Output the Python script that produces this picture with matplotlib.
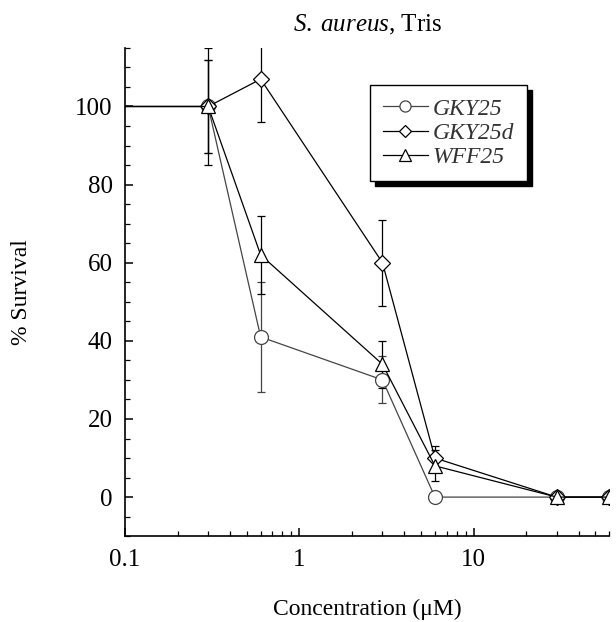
import matplotlib
matplotlib.use("Agg")
import matplotlib.pyplot as plt
from matplotlib.ticker import MultipleLocator, LogLocator, NullFormatter, FixedLocator, FixedFormatter

plt.rcParams['font.family'] = ['Liberation Serif', 'DejaVu Serif']
plt.rcParams['mathtext.fontset'] = 'custom'
plt.rcParams['mathtext.it'] = 'Liberation Serif:italic'
plt.rcParams['mathtext.rm'] = 'Liberation Serif'

# concentrations (uM); first point sits left of the axis and is clipped
conc = [0.05, 0.3, 0.6, 3, 6, 30, 60]

gky25 = [100, 100, 41, 30, 0, 0, 0]
gky25_err = [0, 12, 14, 6, 0, 0, 0]

gky25d = [100, 100, 107, 60, 10, 0, 0]
gky25d_err = [0, 15, 11, 11, 3, 0, 0]

wff25 = [100, 100, 62, 34, 8, 0, 0]
wff25_err = [0, 12, 10, 6, 4, 0, 0]

fig = plt.figure(figsize=(6.16, 6.22), dpi=100)
ax = fig.add_axes([0.203, 0.138, 0.786, 0.785])

series = [
    (gky25, gky25_err, 'GKY25', 'o', 10, '#444444'),
    (gky25d, gky25d_err, 'GKY25d', 'D', 8, 'black'),
    (wff25, wff25_err, 'WFF25', '^', 10, 'black'),
]
for vals, err, name, mk, ms, col in series:
    ax.errorbar(conc, vals, yerr=err, fmt='none', ecolor=col, elinewidth=0.9,
                capsize=2.8, capthick=0.9, zorder=2)
    ax.plot(conc, vals, color=col, lw=0.9, marker=mk, ms=ms, mfc='white',
            mec=col, mew=0.9, label=name, zorder=3)

ax.set_xscale('log')
ax.set_xlim(0.1, 60)
ax.set_ylim(-10, 115)

ax.xaxis.set_major_locator(FixedLocator([0.1, 1, 10]))
ax.xaxis.set_major_formatter(FixedFormatter(['0.1', '1', '10']))
ax.xaxis.set_minor_locator(LogLocator(base=10, subs=range(2, 10)))
ax.xaxis.set_minor_formatter(NullFormatter())
ax.yaxis.set_major_locator(MultipleLocator(20))
ax.yaxis.set_minor_locator(MultipleLocator(5))

for s in ['top', 'right']:
    ax.spines[s].set_visible(False)
ax.spines['left'].set_linewidth(1.2)
ax.spines['bottom'].set_linewidth(1.2)

ax.tick_params(which='major', direction='in', length=6, width=1.1, labelsize=18, pad=9)
ax.tick_params(which='minor', direction='in', length=3.5, width=0.9)

ax.set_title(r'$\mathit{S.\;aureus}$, Tris', fontsize=18, pad=12)
ax.set_xlabel('Concentration (\u03bcM)', fontsize=17, labelpad=20)
ax.set_ylabel('% Survival', fontsize=17, labelpad=31)

leg = ax.legend(loc='upper right', bbox_to_anchor=(0.83, 0.924), frameon=True,
                fancybox=False, shadow={'color': 'black', 'alpha': 1, 'ox': 3.5, 'oy': -3.5},
                prop={'style': 'italic', 'size': 17}, handlelength=1.9,
                handletextpad=0.2, labelspacing=0.12, borderpad=0.55,
                borderaxespad=0, markerscale=0.8)
leg.get_frame().set_edgecolor('black')
leg.get_frame().set_linewidth(1.0)
for t in leg.get_texts():
    t.set_color('#333333')

fig.savefig('out.png', dpi=100)
